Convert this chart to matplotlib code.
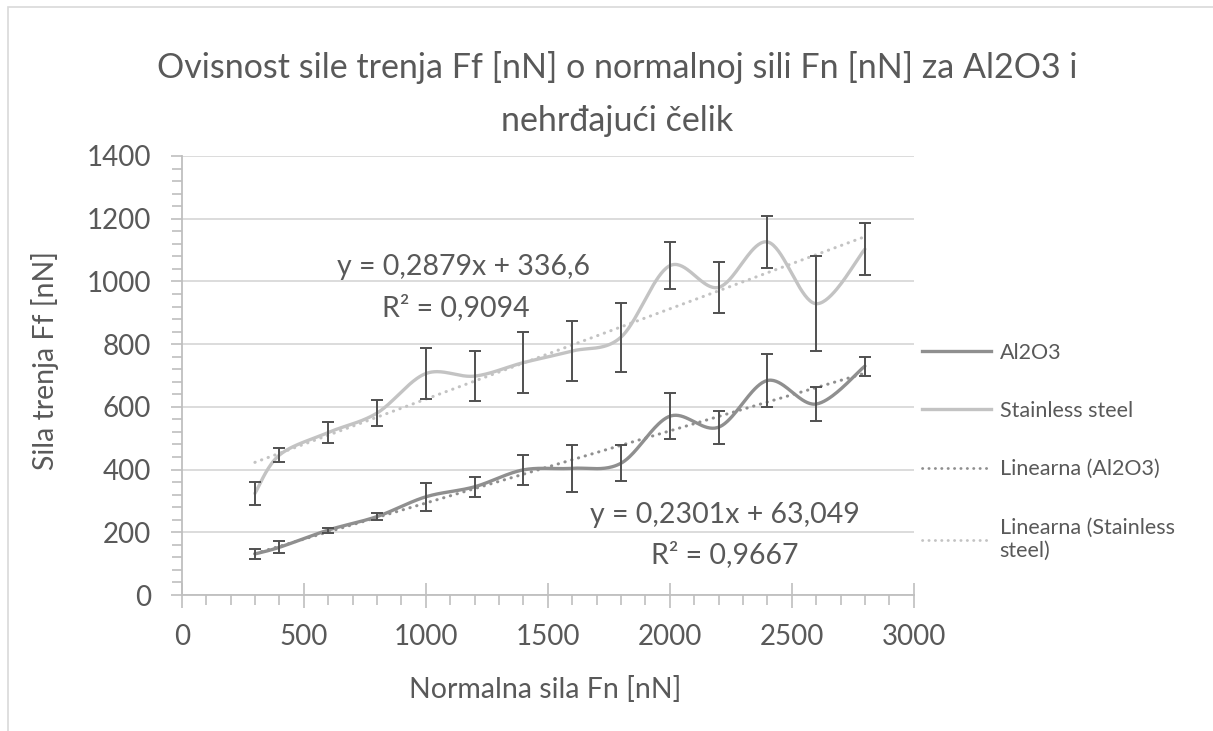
import numpy as np
import matplotlib
matplotlib.use("Agg")
import matplotlib.pyplot as plt
from matplotlib.lines import Line2D
from matplotlib.patches import Rectangle
from matplotlib.ticker import MultipleLocator

plt.rcParams['font.family'] = ['Lato', 'DejaVu Sans']

# Normal force [nN]
fn = [300, 400, 600, 800, 1000, 1200, 1400, 1600, 1800, 2000, 2200, 2400, 2600, 2800]

# Friction force [nN] and standard deviations
al2o3 = [131, 152, 207, 250, 313, 345, 399, 404, 420, 570, 535, 684, 609, 730]
al2o3_err = [16, 19, 8, 10, 45, 32, 48, 74, 58, 73, 52, 85, 54, 30]
steel = [324, 446, 518, 580, 706, 698, 741, 778, 822, 1050, 981, 1126, 929, 1103]
steel_err = [36, 22, 34, 42, 82, 80, 97, 96, 110, 75, 82, 82, 152, 84]

# Linear fits
al2o3_slope, al2o3_icpt, al2o3_r2 = 0.2301, 63.049, 0.9667
steel_slope, steel_icpt, steel_r2 = 0.2879, 336.6, 0.9094

TEXT = '#595959'
C_AL = '#8f8f8f'
C_ST = '#c3c3c3'
C_ERR = '#505050'


def smooth(xs, ys, n=40):
    """Cubic Bezier curve through the points (spreadsheet-style smoothing)."""
    p = np.column_stack([xs, ys]).astype(float)
    ext = np.vstack([p[0], p, p[-1]])
    out = []
    t = np.linspace(0, 1, n)[:, None]
    for i in range(len(p) - 1):
        p0, p3 = ext[i + 1], ext[i + 2]
        c1 = p0 + (ext[i + 2] - ext[i]) / 6.0
        c2 = p3 - (ext[i + 3] - ext[i + 1]) / 6.0
        seg = ((1 - t) ** 3) * p0 + 3 * ((1 - t) ** 2) * t * c1 + 3 * (1 - t) * t ** 2 * c2 + t ** 3 * p3
        out.append(seg if i == 0 else seg[1:])
    s = np.vstack(out)
    return s[:, 0], s[:, 1]


W, H = 1213, 731
fig = plt.figure(figsize=(W / 100, H / 100), dpi=100)
fig.patches.append(Rectangle((8 / W, -0.1), 1.2, 1 - 7 / H + 0.1, transform=fig.transFigure,
                             fill=False, edgecolor='#d9d9d9', linewidth=1.2))

ax = fig.add_axes([181.7 / W, 1 - 595 / H, (913.7 - 181.7) / W, (595 - 156) / H])
ax.set_xlim(0, 3000)
ax.set_ylim(0, 1400)

for s in ['top', 'right']:
    ax.spines[s].set_visible(False)
for s in ['left', 'bottom']:
    ax.spines[s].set_color('#bfbfbf')
    ax.spines[s].set_linewidth(1.3)

ax.yaxis.set_major_locator(MultipleLocator(200))
ax.yaxis.set_minor_locator(MultipleLocator(40))
ax.xaxis.set_major_locator(MultipleLocator(500))
ax.xaxis.set_minor_locator(MultipleLocator(100))
ax.grid(axis='y', color='#d9d9d9', linewidth=1.3)
ax.set_axisbelow(True)

ax.tick_params(axis='y', which='major', direction='out', length=8, width=1.2, color='#bfbfbf',
               labelsize=20, labelcolor=TEXT, pad=14)
ax.tick_params(axis='y', which='minor', direction='out', length=7, width=1.2, color='#bfbfbf')
ax.tick_params(axis='x', which='major', direction='inout', length=18, width=1.2, color='#bfbfbf',
               labelsize=20, labelcolor=TEXT, pad=12)
ax.tick_params(axis='x', which='minor', direction='out', length=7, width=1.2, color='#bfbfbf')

# Smoothed series
sx, sy = smooth(fn, al2o3)
ax.plot(sx, sy, color=C_AL, linewidth=2.4, solid_capstyle='round', zorder=3)
sx, sy = smooth(fn, steel)
ax.plot(sx, sy, color=C_ST, linewidth=2.4, solid_capstyle='round', zorder=3)

# Error bars
ax.errorbar(fn, al2o3, yerr=al2o3_err, fmt='none', ecolor=C_ERR, elinewidth=1.4, capsize=4.5,
            capthick=1.4, zorder=4)
ax.errorbar(fn, steel, yerr=steel_err, fmt='none', ecolor=C_ERR, elinewidth=1.4, capsize=4.5,
            capthick=1.4, zorder=4)

# Trend lines
xt = np.array([fn[0], fn[-1]], dtype=float)
ax.plot(xt, al2o3_slope * xt + al2o3_icpt, color=C_AL, linewidth=2.2,
        linestyle=(0, (0.1, 2.2)), dash_capstyle='round', zorder=2)
ax.plot(xt, steel_slope * xt + steel_icpt, color=C_ST, linewidth=2.2,
        linestyle=(0, (0.1, 2.2)), dash_capstyle='round', zorder=2)


def fmt(v):
    return ('%g' % v).replace('.', ',')


ax.text(1153, 1046, 'y = %sx + %s' % (fmt(steel_slope), fmt(steel_icpt)), ha='center', va='center',
        fontsize=20.5, color=TEXT)
ax.text(1124, 918, 'R² = %s' % fmt(steel_r2), ha='center', va='center', fontsize=20.5, color=TEXT)
ax.text(2227, 255, 'y = %sx + %s' % (fmt(al2o3_slope), fmt(al2o3_icpt)), ha='center', va='center',
        fontsize=20.5, color=TEXT)
ax.text(2227, 128, 'R² = %s' % fmt(al2o3_r2), ha='center', va='center', fontsize=20.5, color=TEXT)

ax.set_xlabel('Normalna sila Fn [nN]', fontsize=20.5, color=TEXT)
ax.xaxis.set_label_coords(0.496, -0.216)
ax.set_ylabel('Sila trenja Ff [nN]', fontsize=20.5, color=TEXT)
ax.yaxis.set_label_coords(-0.187, 0.535)
ax.xaxis.label.set_va('center')
ax.yaxis.label.set_va('center')

fig.text(617.5 / W, 1 - 67 / H, 'Ovisnost sile trenja Ff [nN] o normalnoj sili Fn [nN] za Al2O3 i',
         ha='center', va='center', fontsize=24.5, color=TEXT)
fig.text(617.5 / W, 1 - 121 / H, 'nehrđajući čelik',
         ha='center', va='center', fontsize=24.5, color=TEXT)

handles = [
    Line2D([], [], color=C_AL, linewidth=2.4),
    Line2D([], [], color=C_ST, linewidth=2.4),
    Line2D([], [], color=C_AL, linewidth=2.0, linestyle=(0, (0.1, 2.2)), dash_capstyle='round'),
    Line2D([], [], color=C_ST, linewidth=2.0, linestyle=(0, (0.1, 2.2)), dash_capstyle='round'),
]
labels = ['Al2O3', 'Stainless steel', 'Linearna (Al2O3)', 'Linearna (Stainless\nsteel)']
leg = fig.legend(handles, labels, loc='upper left', bbox_to_anchor=(913 / W, 1 - 334 / H),
                 frameon=False, fontsize=15.5, labelcolor=TEXT, handlelength=3.2,
                 handletextpad=0.42, labelspacing=1.78, borderaxespad=0)

fig.savefig('out.png', dpi=100)
